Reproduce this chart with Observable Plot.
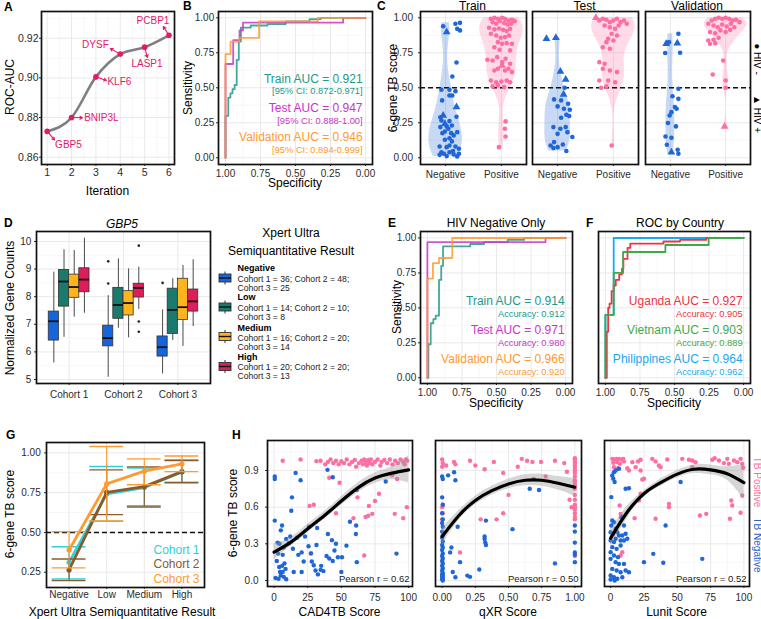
<!DOCTYPE html>
<html><head><meta charset="utf-8">
<script src="https://cdn.jsdelivr.net/npm/d3@7"></script>
<script src="https://cdn.jsdelivr.net/npm/@observablehq/plot@0.6"></script>
<style>
html,body{margin:0;padding:0;background:#fff;}
#root{position:relative;width:761px;height:619px;overflow:hidden;background:#fff;font-family:"Liberation Sans",Arial,Helvetica,sans-serif;}
#root svg{position:absolute;overflow:visible;}
</style></head><body><div id="root"></div>
<script>
// ================= DATA =================
// Panel A
const genes = ["GBP5","BNIP3L","KLF6","DYSF","LASP1","PCBP1"];
const iterations = [1,2,3,4,5,6];
const rocAuc = [0.873,0.880,0.9005,0.912,0.9155,0.9215];
// Panel B (ROC curves as [1-specificity, sensitivity])
const rocSplits = ["Train","Test","Validation"];
const trainRocB = [[0,0],[0,0.30],[0.02,0.30],[0.02,0.43],[0.035,0.43],[0.035,0.46],[0.05,0.46],[0.05,0.49],[0.065,0.49],[0.065,0.52],[0.08,0.52],[0.08,0.70],[0.095,0.70],[0.095,0.83],[0.11,0.83],[0.11,0.93],[0.18,0.93],[0.18,0.945],[0.30,0.945],[0.30,0.955],[0.43,0.955],[0.43,0.975],[0.60,0.975],[0.60,0.99],[0.68,0.99],[0.68,1],[1,1]];
const testRocB = [[0,0],[0,0.67],[0.055,0.67],[0.055,0.84],[0.10,0.84],[0.10,0.91],[0.125,0.91],[0.125,0.965],[0.84,0.965],[0.84,1],[1,1]];
const valRocB = [[0,0],[0,0.74],[0.036,0.74],[0.036,0.83],[0.10,0.83],[0.10,0.857],[0.24,0.857],[0.24,0.975],[0.66,0.975],[0.66,1],[1,1]];
const aucB = ["0.921","0.947","0.946"];
const ciB = ["0.872-0.971","0.888-1.00","0.894-0.999"];
// Panel C ([jitter offset, 6-gene TB score, HIV positive])
const tbStatus = ["Negative","Positive"];
const hivStrip = ["\u25CF HIV -","\u25B2 HIV +"];
const trainNeg = [[-0.044,0.94,0],[0.019,0.898,1],[0.176,0.957,0],[0.258,0.964,0],[0.208,0.921,0],[0.258,0.91,0],[0.195,0.681,0],[0.12,0.581,0],[-0.075,0.486,0],[0.069,0.486,0],[0.176,0.476,0],[-0.063,0.41,0],[0.069,0.445,0],[0.12,0.445,0],[0.195,0.362,1],[0.195,0.293,0],[-0.094,0.29,0],[-0.044,0.302,1],[-0.075,0.267,0],[-0.013,0.243,1],[0.069,0.262,0],[-0.094,0.219,0],[0.019,0.224,0],[0.113,0.231,0],[0.05,0.207,0],[-0.013,0.188,0],[-0.057,0.176,0],[0.1,0.176,0],[0.145,0.16,0],[0.208,0.183,0],[0.069,0.14,0],[-0.013,0.129,0],[0.113,0.117,0],[-0.107,0.081,0],[0.019,0.076,0],[0.069,0.088,0],[0.176,0.081,0],[0.239,0.064,0],[-0.075,0.04,0],[-0.031,0.029,0],[0.019,0.012,0],[-0.107,0.021,0],[0.145,0.024,0],[0.208,0.01,0],[0.069,0.04,0],[0.132,0.048,0],[0.239,0.029,0]];
const trainPos = [[-0.189,0.993,0],[-0.126,1.0,0],[-0.063,0.993,0],[0.013,1.0,0],[0.063,0.993,0],[0.126,0.981,0],[0.189,0.986,0],[0.239,0.976,0],[-0.157,0.969,0],[-0.094,0.957,0],[-0.031,0.976,0],[0.05,0.962,0],[0.113,0.952,0],[0.176,0.957,0],[-0.22,0.929,0],[-0.126,0.917,0],[-0.044,0.924,0],[0.031,0.914,0],[0.094,0.905,0],[0.157,0.921,0],[-0.189,0.886,0],[-0.094,0.874,0],[-0.013,0.857,0],[0.063,0.862,0],[0.138,0.874,0],[-0.063,0.826,0],[0.013,0.814,0],[0.094,0.819,0],[0.189,0.814,0],[-0.126,0.79,0],[-0.031,0.771,0],[0.157,0.767,0],[-0.252,0.7,0],[-0.157,0.695,0],[-0.075,0.719,0],[0.013,0.683,0],[0.075,0.707,0],[0.013,0.66,1],[0.157,0.671,0],[-0.063,0.636,0],[-0.126,0.624,0],[0.063,0.624,0],[0.126,0.636,0],[0.189,0.612,0],[-0.189,0.552,0],[-0.094,0.54,0],[0,0.545,0],[0.094,0.552,0],[0.157,0.54,0],[-0.157,0.51,0],[-0.063,0.517,0],[0.05,0.505,0],[0.075,0.26,0],[0.063,0.207,0],[0.075,0.152,0],[-0.044,0.076,0]];
const testNeg = [[-0.2,0.85,1],[-0.031,0.857,1],[0.05,0.617,1],[0.145,0.56,1],[0.126,0.5,0],[0.107,0.452,1],[-0.063,0.417,0],[0.063,0.41,0],[0.189,0.386,0],[0,0.367,0],[0.113,0.35,0],[0.22,0.343,0],[0.157,0.307,0],[0.063,0.286,0],[0.208,0.298,0],[-0.075,0.219,0],[0.05,0.207,0],[0.145,0.219,0],[0.176,0.183,0],[0,0.171,0],[0.264,0.148,0],[-0.063,0.112,0],[-0.126,0.088,0],[0,0.076,0],[0.094,0.095,0],[-0.075,0.069,0],[0.157,0.048,0]];
const testPos = [[-0.314,1.0,1],[-0.252,0.981,0],[-0.189,0.993,0],[-0.126,0.986,0],[-0.063,0.969,0],[0,0.981,0],[0.063,0.993,0],[0.126,0.969,0],[0.189,0.981,0],[0.239,0.957,0],[-0.157,0.945,0],[-0.063,0.933,0],[0.031,0.921,0],[0.094,0.945,0],[-0.031,0.886,0],[0.063,0.874,0],[-0.094,0.85,0],[0,0.838,0],[-0.126,0.826,0],[-0.189,0.79,0],[-0.063,0.779,0],[-0.252,0.683,0],[-0.157,0.671,0],[-0.189,0.636,0],[-0.063,0.624,0],[0.063,0.612,0],[-0.252,0.552,0],[-0.094,0.552,0],[0.031,0.54,0],[-0.22,0.5,0],[-0.126,0.51,0],[-0.031,0.088,0]];
const valNeg = [[-0.094,0.748,0],[-0.075,0.814,1],[-0.025,0.826,0],[0.145,0.886,0],[0.126,0.819,1],[0.176,0.75,0],[0.145,0.493,0],[0.145,0.421,0],[0.038,0.44,0],[0.082,0.362,0],[0.113,0.35,0],[-0.013,0.302,0],[0.019,0.326,0],[-0.044,0.248,0],[0.101,0.224,0],[-0.088,0.152,0],[0.019,0.143,0],[-0.063,0.093,0],[0.019,0.04,1],[0.132,0.057,0],[0.145,0.029,0]];
const valPos = [[-0.314,0.957,0],[-0.252,0.981,0],[-0.189,0.993,0],[-0.126,1.0,0],[-0.063,0.993,0],[0,1.0,0],[0.063,0.993,0],[0.126,0.981,0],[0.189,0.986,0],[0.252,0.969,0],[-0.22,0.945,0],[-0.145,0.933,0],[-0.063,0.952,0],[0.019,0.938,0],[0.094,0.957,0],[0.157,0.933,0],[-0.283,0.898,0],[-0.189,0.89,0],[-0.094,0.91,0],[0,0.898,0],[0.082,0.914,0],[-0.314,0.838,0],[-0.22,0.843,0],[-0.126,0.857,0],[-0.283,0.814,0],[-0.189,0.819,0],[-0.044,0.695,0],[-0.233,0.595,0],[0,0.552,0],[0,0.5,0],[-0.019,0.224,1]];
const violinMaxWidth = [[0.30,0.39],[0.23,0.39],[0.08,0.39]];
// Panel D (GBP5 box stats: [lower whisker, q1, median, q3, upper whisker], per cohort)
const cohorts = ["Cohort 1","Cohort 2","Cohort 3"];
const xpertLevels = ["Negative","Low","Medium","High"];
const negBox  = [[5.6,6.41,7.11,7.46,8.89],[5.08,6.2,6.5,6.95,8.04],[5.2,5.83,6.17,6.56,7.52]];
const lowBox  = [[6.53,7.64,8.55,8.97,9.70],[6.86,7.20,7.70,8.32,9.37],[6.41,6.65,7.52,8.29,8.65]];
const medBox  = [[7.26,7.96,8.35,8.80,9.67],[6.51,7.32,7.77,8.20,9.01],[6.20,7.16,7.62,8.65,9.13]];
const highBox = [[7.40,8.16,8.62,9.03,10.12],[7.54,7.97,8.32,8.47,9.07],[6.92,7.46,7.83,8.26,9.34]];
const outlierCohort = [2,2,2,2,2,3];
const outlierLevel = ["Negative","Negative","High","High","High","Negative"];
const outlierValue = [9.28,8.48,9.85,7.10,6.73,8.50];
const legendCounts = [[36,48,25],[14,10,8],[16,20,14],[20,20,13]];
// Panel E
const trainRocE = [[0,0],[0.007,0],[0.007,0.24],[0.024,0.24],[0.024,0.39],[0.043,0.39],[0.043,0.42],[0.06,0.42],[0.06,0.445],[0.084,0.445],[0.084,0.70],[0.10,0.70],[0.10,0.80],[0.113,0.80],[0.113,0.94],[0.31,0.94],[0.31,0.957],[0.41,0.957],[0.41,0.97],[0.58,0.97],[0.58,0.986],[0.70,0.986],[0.70,1],[1,1]];
const testRocE = [[0,0],[0,0.97],[0.855,0.97],[0.855,1],[1,1]];
const valRocE = [[0,0],[0,0.71],[0.04,0.71],[0.04,0.82],[0.084,0.82],[0.084,0.857],[0.18,0.857],[0.18,1],[1,1]];
const aucE = ["0.914","0.971","0.966"];
const accE = ["0.912","0.980","0.920"];
// Panel F
const countries = ["Uganda","Vietnam","Philippines"];
const ugandaRoc = [[0,0],[0.01,0],[0.01,0.33],[0.02,0.33],[0.02,0.5],[0.03,0.5],[0.03,0.53],[0.045,0.53],[0.045,0.62],[0.06,0.62],[0.06,0.66],[0.075,0.66],[0.075,0.70],[0.1,0.70],[0.1,0.74],[0.12,0.74],[0.12,0.78],[0.13,0.78],[0.13,0.85],[0.16,0.85],[0.16,0.93],[0.18,0.93],[0.18,0.96],[0.42,0.96],[0.42,0.975],[0.54,0.975],[0.54,0.986],[0.73,0.986],[0.73,1],[1,1]];
const vietnamRoc = [[0,0],[0,0.45],[0.06,0.45],[0.06,0.75],[0.128,0.75],[0.128,0.9],[0.434,0.9],[0.434,0.95],[0.747,0.95],[0.747,1],[1,1]];
const philippinesRoc = [[0,0],[0,0.45],[0.06,0.45],[0.06,1],[1,1]];
const aucF = ["0.927","0.903","0.964"];
const accF = ["0.905","0.889","0.962"];
// Panel G (mean and error bar bounds per Xpert level)
const cohortMean = [[0.312,0.742,0.782,0.880],[0.264,0.752,0.788,0.882],[0.390,0.805,0.885,0.930]];
const cohortLo   = [[0.207,0.570,0.668,0.815],[0.197,0.612,0.660,0.812],[0.277,0.572,0.800,0.882]];
const cohortHi   = [[0.410,0.914,0.905,0.955],[0.333,0.893,0.912,0.952],[0.505,1.040,0.962,0.980]];
// Panel H ([score, 6-gene TB score])
const cadNeg = [[0.5,0.85],[0.5,0.83],[0.5,0.49],[1,0.02],[2.6,0.31],[3,0.22],[2,0.16],[3.8,0.11],[4.4,0.07],[3.3,0.014],[5,0.04],[6,0.12],[6.4,0.07],[6.4,0.21],[5,0.41],[5.9,0.45],[7.7,0.14],[7.2,0.03],[8.5,0.095],[9,0.01],[11,0.305],[12.8,0.57],[13.3,0.68],[14,0.26],[14.6,0.07],[16,0.88],[19.7,0.82],[20.5,0.23],[20.5,0.07],[22,0.155],[23,0.36],[25.6,0.28],[27.4,0.22],[28,0.155],[29.5,0.125],[30.8,0.082],[31.5,0.29],[32.6,0.05],[34.6,0.087],[36.7,0.077],[39,0.2],[39.7,0.905],[41,0.18],[43.6,0.845],[43.6,0.16],[44.9,0.245],[46,0.3],[47.4,0.19],[50,0.07],[50.5,0.19],[53.8,0.285],[56.4,0.48],[60.8,0.38],[61,0.45],[61.5,0.15],[61.5,0.74],[83,0.81],[91,0.22],[9,0.34],[12,0.36],[17,0.35],[26,0.44],[32,0.43],[40,0.38],[43,0.33],[35,0.12],[18,0.21],[4,0.3],[7,0.27]];
const cadPos = [[6.4,0.98],[19.7,0.99],[31.5,0.976],[34.6,0.98],[38,0.95],[40,0.97],[42,0.99],[44,0.96],[46,0.98],[48,0.95],[50,0.975],[52,0.96],[54,0.99],[56,0.95],[58,0.97],[60,0.985],[61,0.93],[63,0.96],[65,0.98],[66,0.95],[67,0.99],[68,0.97],[69,0.94],[70,0.985],[71,0.96],[72,0.99],[73,0.95],[75,0.97],[77,0.99],[79,0.94],[80,0.97],[82,0.985],[84,0.96],[86,0.99],[88,0.95],[90,0.98],[92,0.96],[94,0.99],[96,0.97],[97,0.95],[98,0.99],[99,0.98],[26.4,0.61],[29.5,0.62],[27.4,0.226],[41,0.84],[48.7,0.80],[46,0.55],[59,0.51],[70.5,0.61],[73,0.545],[70,0.53],[68,0.52],[78,0.71],[67,0.205],[89.7,0.545],[96,0.51],[98.7,0.6],[87.7,0.86],[91.5,0.83],[62,0.68],[75,0.65]];
const qxrNeg = [[0,0.85],[0.005,0.83],[0,0.68],[0.005,0.62],[0,0.55],[0.005,0.5],[0,0.47],[0.005,0.44],[0,0.4],[0.005,0.37],[0,0.35],[0.005,0.32],[0,0.29],[0.005,0.27],[0,0.25],[0.005,0.22],[0,0.2],[0.005,0.18],[0,0.16],[0.005,0.14],[0,0.12],[0.005,0.1],[0,0.08],[0.005,0.06],[0,0.05],[0.005,0.04],[0,0.03],[0.005,0.02],[0,0.01],[0.005,0.0],[0.045,0.86],[0.09,0.885],[0.1,0.82],[0.06,0.23],[0.07,0.27],[0.08,0.07],[0.1,0.027],[0.117,0.44],[0.135,0.15],[0.19,0.04],[0.21,0.03],[0.28,0.09],[0.32,0.36],[0.32,0.34],[0.325,0.31],[0.33,0.29],[0.33,0.49],[0.53,0.42],[0.66,0.75],[0.73,0.74],[0.85,0.14],[1,0.45],[1,0.4],[1,0.31],[1,0.23],[1,0.15],[1,0.21]];
const qxrPos = [[0,0.99],[0.005,0.96],[0,0.93],[0.005,0.62],[0,0.6],[0.005,0.55],[0,0.5],[0.03,0.94],[0.09,0.97],[0.1,0.95],[0.135,0.23],[0.21,0.98],[0.25,0.94],[0.29,0.5],[0.32,0.91],[0.39,0.97],[0.41,0.5],[0.46,0.88],[0.46,0.55],[0.5,0.7],[0.57,0.93],[0.6,0.995],[0.64,0.98],[0.68,0.97],[0.69,0.83],[0.745,0.97],[0.78,0.85],[0.85,0.98],[0.92,0.96],[0.94,0.89],[0.975,0.6],[0.96,0.66],[1,1.0],[1,0.99],[1,0.97],[1,0.96],[1,0.94],[1,0.92],[1,0.9],[1,0.88],[1,0.85],[1,0.82],[1,0.8],[1,0.78],[1,0.75],[1,0.7],[1,0.66],[1,0.62],[1,0.6],[1,0.58],[1,0.55],[1,0.52],[1,0.5],[1,0.2]];
const lunitNeg = [[1.25,0.859],[2,0.832],[2.5,0.886],[3.75,0.9],[6.25,0.914],[3,0.805],[0.5,0.682],[11.25,0.75],[13.75,0.755],[8,0.518],[1.25,0.491],[0.5,0.45],[2.5,0.477],[3.75,0.423],[0,0.395],[1.75,0.382],[5,0.395],[6.25,0.368],[8.75,0.368],[10,0.45],[11.25,0.382],[0,0.327],[2.5,0.314],[3.75,0.341],[7.5,0.327],[10,0.327],[12.5,0.341],[1.25,0.273],[4.5,0.259],[7.5,0.286],[0,0.232],[2.5,0.205],[5.5,0.191],[0,0.177],[3.75,0.15],[6.25,0.136],[10,0.136],[1.25,0.095],[4.5,0.082],[7.5,0.068],[11.25,0.082],[0,0.041],[2.5,0.027],[5,0.014],[8.75,0.027],[13.75,0.068],[0,0.008],[3,0],[41.25,0.45],[25,0.15],[32,0.218],[39.5,0.145],[68.75,0.177],[52.5,0.805]];
const lunitPos = [[1.25,0.995],[3,0.99],[4.5,0.995],[6.25,0.995],[8,0.99],[9.5,0.995],[2,0.963],[5,0.968],[7,0.954],[10,0.974],[2.5,0.927],[5.5,0.919],[12.5,0.919],[13.75,0.9],[16.25,0.968],[20.5,0.974],[22.5,0.987],[18.75,0.927],[22.5,0.9],[23.75,0.826],[25,0.832],[31.25,0.995],[33.75,0.974],[36.25,0.941],[37.5,0.927],[42.5,0.99],[53.75,0.995],[58.75,0.987],[61.25,0.982],[63.75,0.968],[61.25,0.927],[76.25,0.987],[78,1.0],[81.25,0.982],[85,0.96],[87.5,0.995],[88.75,0.954],[92.5,0.982],[95,0.968],[97.5,0.995],[98.75,0.954],[99.5,0.922],[98.75,0.695],[90.5,0.654],[91.25,0.614],[97.5,0.554],[89.5,0.505],[71.75,0.545],[67,0.532],[43.75,0.627],[43.75,0.6],[33.75,0.505],[18,0.51],[6.75,0.614],[7.5,0.545],[8.75,0.232],[7.5,0.205],[22.5,0.709],[21.25,0.654]];
const smoothX100 = [0,12.5,25,37.5,50,62.5,75,87.5,100];
const smoothX1 = [0,0.125,0.25,0.375,0.5,0.625,0.75,0.875,1];
const cadFit = [0.232,0.314,0.423,0.532,0.650,0.760,0.838,0.878,0.905];
const cadLo  = [0.17,0.28,0.39,0.50,0.615,0.72,0.795,0.825,0.80];
const cadHi  = [0.30,0.35,0.46,0.565,0.685,0.80,0.88,0.93,1.02];
const qxrFit = [0.36,0.53,0.655,0.735,0.79,0.82,0.82,0.795,0.763];
const qxrLo  = [0.29,0.49,0.62,0.70,0.75,0.775,0.77,0.74,0.69];
const qxrHi  = [0.43,0.57,0.69,0.77,0.83,0.865,0.87,0.85,0.835];
const lunitFit = [0.346,0.56,0.71,0.80,0.87,0.91,0.905,0.873,0.80];
const lunitLo  = [0.28,0.51,0.685,0.77,0.84,0.875,0.865,0.82,0.66];
const lunitHi  = [0.41,0.61,0.735,0.83,0.90,0.945,0.945,0.93,0.95];
const pearsonR = ["0.62","0.50","0.52"];
const xrayScores = ["CAD4TB Score","qXR Score","Lunit Score"];
const tbLabels = ["TB Positive","TB Negative"];

// ================= HELPERS =================
const FONT = '"Liberation Sans", Arial, Helvetica, sans-serif';
const root = document.getElementById("root");
const M = 40;
function mk(frame, x, y, marks) {
  const [x0,y0,x1,y1] = frame;
  const svg = Plot.plot({
    width: x1-x0+2*M, height: y1-y0+2*M,
    marginTop: M, marginRight: M, marginBottom: M, marginLeft: M,
    x: {...x, axis: null}, y: {...y, axis: null},
    style: {fontFamily: FONT, fontSize: "10px", color: "#2b2b2b", background: "transparent", overflow: "visible"},
    marks
  });
  svg.style.position = "absolute";
  svg.style.left = (x0-M)+"px"; svg.style.top = (y0-M)+"px";
  root.appendChild(svg);
}
const MAJ = {stroke: "#e6e6e6", strokeWidth: 0.9};
const MIN = {stroke: "#f2f2f2", strokeWidth: 0.6};
const gx = (maj, mn=[]) => [Plot.ruleX(mn, MIN), Plot.ruleX(maj, MAJ)];
const gy = (maj, mn=[]) => [Plot.ruleY(mn, MIN), Plot.ruleY(maj, MAJ)];
const axX = (t, f, pad, fs=10) => Plot.axisX(t, {tickSize: 2, tickPadding: pad, tickFormat: f, label: null, fontSize: fs});
const axY = (t, f, pad, fs=10) => Plot.axisY(t, {tickSize: 2, tickPadding: pad, tickFormat: f, label: null, fontSize: fs});
const frm = () => Plot.frame({stroke: "#111", strokeWidth: 1.7});
const f2 = d3.format(".2f");
const q4 = [0,0.25,0.5,0.75,1], q4m = [0.125,0.375,0.625,0.875];

// ================= PANEL A =================
const PINK_A = "#E5196A";
const aRows = genes.map((g,i) => ({gene: g, it: iterations[i], auc: rocAuc[i]}));
const geneLabelX = [1.873,3.225,3.963,2.98,5.098,5.344];
const geneLabelY = [0.8664,0.8799,0.8982,0.9167,0.9073,0.9286];
const geneArrowX = [1.30,2.447,3.43,3.594,5.11,5.766];
const geneArrowY = [0.8687,0.8799,0.8987,0.9148,0.9103,0.9259];
mk([41,11,174,164], {domain: [0.766,6.226]}, {domain: [0.8563,0.9335]}, [
  ...gx(iterations, [1.5,2.5,3.5,4.5,5.5]), ...gy([0.86,0.88,0.90,0.92],[0.87,0.89,0.91,0.93]),
  Plot.line(aRows, {x: "it", y: "auc", stroke: "#7f7f7f", strokeWidth: 2.6, curve: "monotone-x"}),
  Plot.arrow(aRows, {x1: "it", y1: "auc", x2: (d,i) => geneArrowX[i], y2: (d,i) => geneArrowY[i], stroke: PINK_A, strokeWidth: 1.1, headLength: 4, insetStart: 2}),
  Plot.dot(aRows, {x: "it", y: "auc", r: 2.8, fill: PINK_A}),
  Plot.text(aRows, {x: (d,i) => geneLabelX[i], y: (d,i) => geneLabelY[i], text: "gene", fill: PINK_A, fontSize: 10}),
  axX(iterations, d3.format("d"), 2.2, 10.5), axY([0.86,0.88,0.90,0.92], f2, 1, 10.5), frm()
]);

// ================= ROC panels B, E, F =================
function rocMarks(curves, colors, mains, subs, mainY, subY, xText, yAxis, subSize) {
  const marks = [...gx(q4, q4m), ...gy(q4, q4m)];
  curves.forEach((c,k) => marks.push(Plot.line(c, {x: d => 1-d[0], y: d => d[1], stroke: colors[k], strokeWidth: 1.8, strokeOpacity: 0.85})));
  const rows = mains.map((t,k) => ({t, s: subs[k], k}));
  marks.push(Plot.text(rows, {x: xText, y: d => mainY[d.k], text: "t", fill: d => colors[d.k], textAnchor: "end", fontSize: 12}));
  marks.push(Plot.text(rows, {x: xText, y: d => subY[d.k], text: "s", fill: d => colors[d.k], textAnchor: "end", fontSize: subSize}));
  marks.push(axX(q4, f2, 3.2));
  if (yAxis) marks.push(axY(q4, f2, 2.3));
  marks.push(frm());
  return marks;
}
const ROC_COL = ["#22998B","#C936C6","#FF9A2E"];
mk([218,11,372,164], {domain: [1.05,-0.05]}, {domain: [-0.048,1.045]},
  rocMarks([trainRocB, testRocB, valRocB], ROC_COL,
    rocSplits.map((s,k) => `${s} AUC = ${aucB[k]}`), ciB.map(c => `[95% CI: ${c}]`),
    [0.559,0.352,0.147], [0.474,0.261,0.057], 0.021, true, 9.3));
mk([420,231,572,383], {domain: [1.05,-0.05]}, {domain: [-0.041,1.0465]},
  rocMarks([trainRocE, testRocE, valRocE], ROC_COL,
    rocSplits.map((s,k) => `${s} AUC = ${aucE[k]}`), accE.map(a => `Accuracy: ${a}`),
    [0.548,0.338,0.136], [0.453,0.25,0.04], 0.007, true, 9.3));
const F_COL = ["#EF3340","#3FA94A","#1BA8EE"];
{
  const marks = [...gx(q4, q4m), ...gy(q4, q4m)];
  [[philippinesRoc,2],[ugandaRoc,0],[vietnamRoc,1]].forEach(([c,k]) => marks.push(Plot.line(c, {x: d => 1-d[0], y: d => d[1], stroke: F_COL[k], strokeWidth: 1.8})));
  const rows = countries.map((c,k) => ({t: `${c} AUC = ${aucF[k]}`, s: `Accuracy: ${accF[k]}`, k}));
  marks.push(Plot.text(rows, {x: 0.007, y: d => [0.548,0.338,0.136][d.k], text: "t", fill: d => F_COL[d.k], textAnchor: "end", fontSize: 12}));
  marks.push(Plot.text(rows, {x: 0.007, y: d => [0.453,0.25,0.04][d.k], text: "s", fill: d => F_COL[d.k], textAnchor: "end", fontSize: 9.3}));
  marks.push(axX(q4, f2, 3.2), frm());
  mk([598,231,750,383], {domain: [1.05,-0.05]}, {domain: [-0.041,1.0465]}, marks);
}

// ================= PANEL C =================
const BLUE = "#1F66D6", PINK = "#FF6EA3";
function violinShape(vals, halfMax) {
  const v = vals.slice().sort(d3.ascending);
  const n = v.length, sd = d3.deviation(v), iqr = d3.quantile(v, 0.75) - d3.quantile(v, 0.25);
  const bw = 0.9 * Math.min(sd, iqr / 1.34) * Math.pow(n, -0.2);
  const lo = v[0], hi = v[n-1];
  const ys = d3.range(121).map(k => lo + (hi - lo) * k / 120);
  const dens = ys.map(y => d3.sum(v, x => Math.exp(-0.5 * ((y - x) / bw) ** 2)));
  const mx = d3.max(dens);
  return ys.map((y,k) => ({y, w: halfMax * dens[k] / mx}));
}
const cData = [[trainNeg, trainPos],[testNeg, testPos],[valNeg, valPos]];
const cFrames = [[419.5,11,525.5,164],[531.5,11,637.5,164],[644.5,11,749.5,164]];
cData.forEach((pair, s) => {
  const marks = [...gx([1,2]), ...gy(q4, q4m)];
  pair.forEach((pts, c) => {
    const center = c + 1, col = c ? PINK : BLUE;
    const shape = violinShape(pts.map(p => p[1]), violinMaxWidth[s][c]);
    marks.push(Plot.areaX(shape, {y: "y", x1: d => center - d.w, x2: d => center + d.w, fill: col, fillOpacity: 0.25}));
  });
  marks.push(Plot.ruleY([0.5], {stroke: "#111", strokeWidth: 1.5, strokeDasharray: "5,3"}));
  pair.forEach((pts, c) => {
    const col = c ? PINK : BLUE;
    marks.push(Plot.dot(pts.filter(p => !p[2]), {x: p => c + 1 + p[0], y: p => p[1], r: 2.3, fill: col, symbol: "circle"}));
    marks.push(Plot.dot(pts.filter(p => p[2]), {x: p => c + 1 + p[0], y: p => p[1], r: 2.9, fill: col, symbol: "triangle"}));
  });
  marks.push(axX([1,2], i => tbStatus[i-1], 4.4));
  if (s === 0) marks.push(axY(q4, f2, 5.5));
  marks.push(frm());
  mk(cFrames[s], {domain: [0.55,2.45]}, {domain: [-0.048,1.045]}, marks);
});

// ================= PANEL D =================
const D_COL = ["#1565DC","#1B7A6E","#FFB41E","#DC1E5A"];
const boxStats = [negBox, lowBox, medBox, highBox];
const BW = 0.1875;
const boxRows = [];
boxStats.forEach((lev, j) => lev.forEach((s, i) => boxRows.push({i, j, lw: s[0], q1: s[1], med: s[2], q3: s[3], uw: s[4]})));
const bcx = d => d.i + 1 + (d.j - 1.5) * BW;
const outRows = outlierValue.map((v,k) => ({i: outlierCohort[k]-1, j: xpertLevels.indexOf(outlierLevel[k]), v}));
{
  const marks = [...gx([1,2,3]), ...gy([5,6,7,8,9,10],[5.5,6.5,7.5,8.5,9.5])];
  marks.push(Plot.ruleX(boxRows, {x: bcx, y1: "lw", y2: "uw", stroke: "#4a4a4a", strokeWidth: 1}));
  D_COL.forEach((col, j) => marks.push(Plot.rect(boxRows.filter(d => d.j === j), {x1: d => bcx(d) - BW/2, x2: d => bcx(d) + BW/2, y1: "q1", y2: "q3", fill: col, stroke: "#333", strokeWidth: 0.8})));
  marks.push(Plot.ruleY(boxRows, {y: "med", x1: d => bcx(d) - BW/2, x2: d => bcx(d) + BW/2, stroke: "#111", strokeWidth: 1.8}));
  marks.push(Plot.dot(outRows, {x: bcx, y: "v", r: 1.3, fill: "#222"}));
  marks.push(axX([1,2,3], i => cohorts[i-1], 5.5), axY([5,6,7,8,9,10], d3.format("d"), 3.2), frm());
  mk([36,231,210,383], {domain: [0.4,3.6]}, {domain: [4.855,10.362]}, marks);
}

// ================= PANEL G =================
const G_COL = ["#2ED0DA","#8B5A2B","#FF9A2E"];
{
  const marks = [...gx([1,2,3,4]), ...gy([0.25,0.5,0.75,1],[0.375,0.625,0.875])];
  marks.push(Plot.ruleY([0.5], {stroke: "#111", strokeWidth: 1.5, strokeDasharray: "5,3"}));
  cohortMean.forEach((means, c) => {
    const rows = means.map((m,k) => ({k: k+1, m, lo: cohortLo[c][k], hi: cohortHi[c][k]}));
    const col = G_COL[c];
    marks.push(Plot.ruleX(rows, {x: "k", y1: "lo", y2: "hi", stroke: col, strokeWidth: 1.1}));
    marks.push(Plot.ruleY(rows, {y: "lo", x1: d => d.k - 0.45, x2: d => d.k + 0.45, stroke: col, strokeWidth: 1.4}));
    marks.push(Plot.ruleY(rows, {y: "hi", x1: d => d.k - 0.45, x2: d => d.k + 0.45, stroke: col, strokeWidth: 1.4}));
    marks.push(Plot.line(rows, {x: "k", y: "m", stroke: col, strokeWidth: 2.8}));
    marks.push(Plot.dot(rows, {x: "k", y: "m", r: 2.6, fill: col}));
  });
  const lg = cohorts.map((c,k) => ({c, k}));
  marks.push(Plot.text(lg, {x: 4.467, y: d => [0.386,0.303,0.209][d.k], text: "c", fill: d => G_COL[d.k], textAnchor: "end", fontSize: 12}));
  marks.push(axX([1,2,3,4], i => xpertLevels[i-1], 1.6), axY([0.25,0.5,0.75,1], f2, 3.8), frm());
  mk([46,442,204,587], {domain: [0.4,4.6]}, {domain: [0.154,1.065]}, marks);
}

// ================= PANEL H =================
const hSets = [
  {neg: cadNeg, pos: cadPos, sx: smoothX100, fit: cadFit, lo: cadLo, hi: cadHi, dom: [-4.9,102.9], ticks: [0,25,50,75,100], minor: [12.5,37.5,62.5,87.5], fmt: d3.format("d"), frame: [267,440,412,586]},
  {neg: qxrNeg, pos: qxrPos, sx: smoothX1, fit: qxrFit, lo: qxrLo, hi: qxrHi, dom: [-0.05,1.05], ticks: q4, minor: q4m, fmt: f2, frame: [435,440,581,586]},
  {neg: lunitNeg, pos: lunitPos, sx: smoothX100, fit: lunitFit, lo: lunitLo, hi: lunitHi, dom: [-4.6,104.2], ticks: [0,25,50,75,100], minor: [12.5,37.5,62.5,87.5], fmt: d3.format("d"), frame: [604,440,749,586]}
];
hSets.forEach((h, s) => {
  const sm = h.sx.map((x,k) => ({x, f: h.fit[k], lo: h.lo[k], hi: h.hi[k]}));
  const marks = [...gx(h.ticks, h.minor), ...gy([0,0.3,0.6,0.9],[0.15,0.45,0.75,1.05])];
  marks.push(Plot.dot(h.pos, {x: d => d[0], y: d => d[1], r: 2.2, fill: PINK}));
  marks.push(Plot.dot(h.neg, {x: d => d[0], y: d => d[1], r: 2.2, fill: BLUE}));
  marks.push(Plot.areaY(sm, {x: "x", y1: "lo", y2: "hi", fill: "#999", fillOpacity: 0.4, curve: "natural"}));
  marks.push(Plot.line(sm, {x: "x", y: "f", stroke: "#000", strokeWidth: 3.2, curve: "natural"}));
  marks.push(Plot.text([`Pearson r = ${pearsonR[s]}`], {frameAnchor: "bottom-right", dx: -3, dy: -5, text: d => d, fontSize: 9.5, fill: "#1a1a1a", stroke: "white", strokeWidth: 3}));
  marks.push(axX(h.ticks, h.fmt, 5.4));
  if (s === 0) marks.push(axY([0,0.3,0.6,0.9], d3.format(".1f"), 7));
  marks.push(frm());
  mk(h.frame, {domain: h.dom}, {domain: [-0.049,1.145]}, marks);
});

// ================= TEXT OVERLAY (titles, axis titles, legends) =================
const ov = d3.select(root).append("svg").attr("width", 761).attr("height", 619)
  .style("left", "0px").style("top", "0px").style("font-family", FONT);
function T(x, y, s, o = {}) {
  return ov.append("text")
    .attr("transform", `translate(${x},${y}) rotate(${o.rot || 0})`)
    .attr("text-anchor", o.anchor || "middle")
    .attr("dominant-baseline", o.base || "central")
    .attr("font-size", o.size || 12)
    .attr("font-weight", o.weight || "normal")
    .attr("font-style", o.style || "normal")
    .attr("fill", o.fill || "#000")
    .text(s);
}
const L = {size: 12, weight: "bold", anchor: "start", base: "alphabetic"};
T(4,11,"A",L); T(183,10,"B",L); T(377,10,"C",L); T(4,227,"D",L); T(388,227,"E",L); T(586,227,"F",L); T(6,439,"G",L); T(232,439,"H",L);
// A
T(10,87,"ROC-AUC",{rot:-90}); T(107.5,191,"Iteration");
// B
T(188,88,"Sensitivity",{rot:-90}); T(295,183,"Specificity");
// C
T(393,88,"6-gene TB score",{rot:-90});
rocSplits.forEach((s,k) => T((cFrames[k][0]+cFrames[k][2])/2, 5.5, s));
T(757,59,hivStrip[0],{rot:90,size:10}); T(757,114,hivStrip[1],{rot:90,size:10});
// D
T(10,308,"Normalized Gene Counts",{rot:-90}); T(122,223.5,"GBP5",{style:"italic"});
T(291,233,"Xpert Ultra"); T(291,250.5,"Semiquantitative Result");
const keyY = [278,307,336.5,366.5], headY = [268.3,297.3,327.7,356.7];
xpertLevels.forEach((lev,j) => {
  const cy = keyY[j];
  ov.append("line").attr("x1",225).attr("x2",225).attr("y1",cy-6.5).attr("y2",cy+6.5).attr("stroke","#333").attr("stroke-width",1);
  ov.append("rect").attr("x",219).attr("y",cy-4).attr("width",12).attr("height",8).attr("fill",D_COL[j]).attr("stroke","#333").attr("stroke-width",0.9);
  ov.append("line").attr("x1",219).attr("x2",231).attr("y1",cy).attr("y2",cy).attr("stroke","#111").attr("stroke-width",1.4);
  const c = legendCounts[j];
  T(237.5, headY[j], lev, {anchor:"start", size:9, weight:"bold"});
  T(237.5, headY[j]+10.5, `Cohort 1 = ${c[0]}; Cohort 2 = ${c[1]};`, {anchor:"start", size:8.6, fill:"#222"});
  T(237.5, headY[j]+19.5, `Cohort 3 = ${c[2]}`, {anchor:"start", size:8.6, fill:"#222"});
});
// E, F
T(496,223,"HIV Negative Only"); T(680,223,"ROC by Country");
T(397,307,"Sensitivity",{rot:-90}); T(496,403,"Specificity"); T(674,403,"Specificity");
// G
T(10,514,"6-gene TB score",{rot:-90}); T(122,612,"Xpert Ultra Semiquantitative Result");
// H
T(233,513,"6-gene TB score",{rot:-90});
hSets.forEach((h,s) => T((h.frame[0]+h.frame[2])/2, 612, xrayScores[s]));
T(757,482,tbLabels[0],{rot:90,size:10,fill:PINK}); T(757,545,tbLabels[1],{rot:90,size:10,fill:BLUE});
</script>
</body></html>
